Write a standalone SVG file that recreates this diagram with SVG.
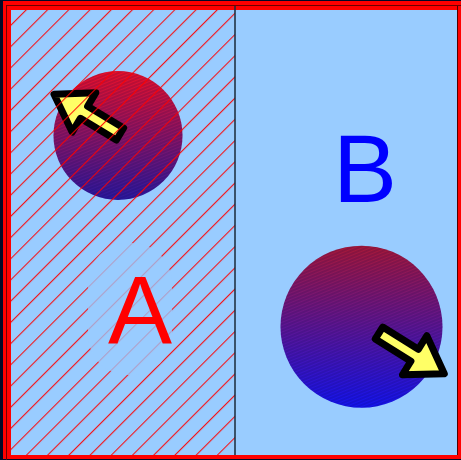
<svg xmlns="http://www.w3.org/2000/svg" width="461" height="460" viewBox="0 0 461 460">
  <defs>
    <pattern id="hatch" width="15" height="15" patternUnits="userSpaceOnUse" patternTransform="rotate(-45)">
      <line x1="0" y1="10.6" x2="15" y2="10.6" stroke="#ff0000" stroke-width="1"/>
    </pattern>
    <pattern id="fine" width="3" height="3" patternUnits="userSpaceOnUse" patternTransform="rotate(-22)">
      <line x1="0" y1="1" x2="3" y2="1" stroke="#000040" stroke-width="1" stroke-opacity="0.3"/>
    </pattern>
    <linearGradient id="g1" x1="0" y1="0" x2="0" y2="1">
      <stop offset="0" stop-color="#ee1028"/>
      <stop offset="1" stop-color="#2a18a0"/>
    </linearGradient>
    <linearGradient id="g2" x1="0" y1="0" x2="0" y2="1">
      <stop offset="0" stop-color="#a81838"/>
      <stop offset="1" stop-color="#1414f0"/>
    </linearGradient>
    <path id="arrowShape" d="M0,-7 L42,-7 L42,-23 L77,0 L42,23 L42,7 L0,7 Z"/>
  </defs>
  <style>
    .arrow { fill: #ffff66; stroke: #000000; stroke-width: 7; stroke-linejoin: round; }
    .label { font-family: "Liberation Sans", Arial, sans-serif; font-size: 96px; text-anchor: middle; }
  </style>

  <g id="frame">
    <rect x="0" y="0" width="461" height="460" fill="#000a28"/>
    <rect x="3" y="1" width="458" height="458" fill="#ff0000"/>
    <rect x="6.5" y="5.5" width="460" height="460" fill="none" stroke="#700000" stroke-width="1"/>
  </g>

  <g id="panelB">
    <rect x="235" y="10" width="222" height="445" fill="#99ccff"/>
    <line x1="457.5" y1="6" x2="457.5" y2="455" stroke="#500000" stroke-width="1"/>
  </g>

  <g id="panelA">
    <rect x="11" y="10" width="224" height="445" fill="#99ccff"/>
  </g>

  <g id="circle1">
    <circle cx="118" cy="135.5" r="64.5" fill="url(#g1)"/>
    <circle cx="118" cy="135.5" r="64.5" fill="url(#fine)"/>
  </g>
  <g id="circle2">
    <circle cx="361.5" cy="326.7" r="81" fill="url(#g2)"/>
    <circle cx="361.5" cy="326.7" r="81" fill="url(#fine)"/>
  </g>

  <g id="arrow1">
    <use href="#arrowShape" class="arrow" transform="translate(120,134) rotate(211)"/>
  </g>
  <g id="arrow2">
    <use href="#arrowShape" class="arrow" transform="translate(379,333) rotate(32)"/>
  </g>

  <g id="hatchA">
    <rect x="11" y="10" width="224" height="445" fill="url(#hatch)"/>
    <rect x="88" y="243" width="84" height="132" rx="40" fill="#99ccff" fill-opacity="0.75"/>
  </g>

  <g id="divider">
    <line x1="235" y1="6" x2="235" y2="455" stroke="#1a2a3a" stroke-width="1.5"/>
  </g>

  <g id="labelA">
    <text class="label" x="140" y="343" fill="#ff0000">A</text>
  </g>
  <g id="labelB">
    <text class="label" x="365" y="201.7" fill="#0000ff">B</text>
  </g>
</svg>
